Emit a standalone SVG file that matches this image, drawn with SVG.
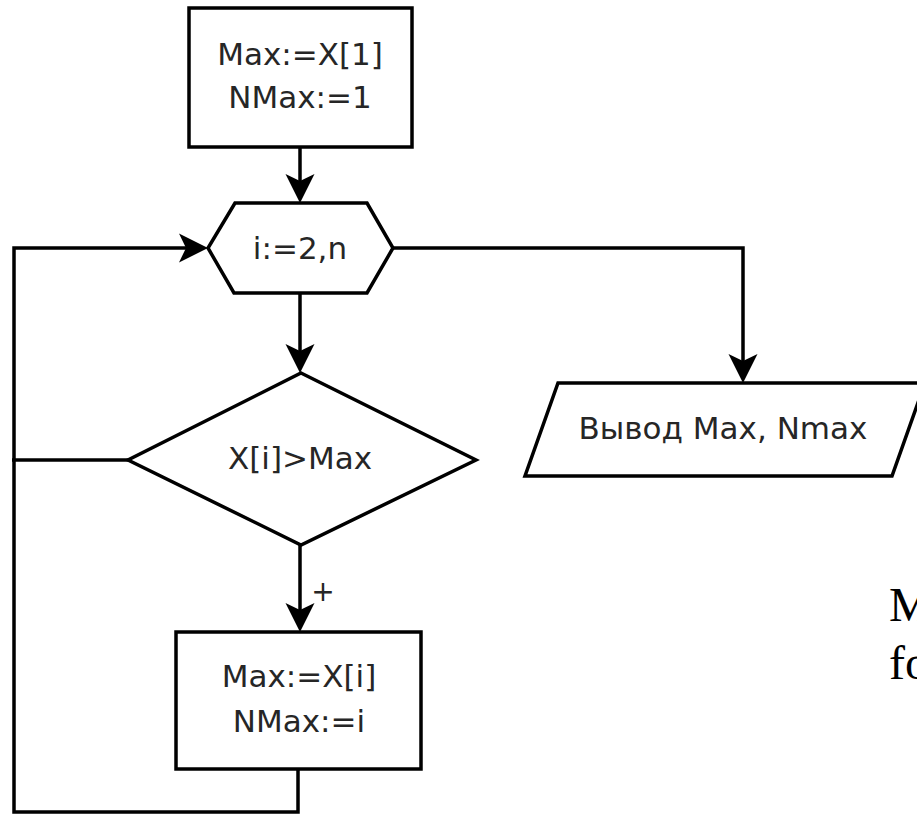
<svg xmlns="http://www.w3.org/2000/svg" width="917" height="816" viewBox="0 0 917 816">
<style>
.shape{fill:#fff;stroke:#000;stroke-width:3.5;stroke-linejoin:miter}
.conn{fill:none;stroke:#000;stroke-width:3.5}
.lbl{font-family:"DejaVu Sans",Verdana,sans-serif;font-size:31px;fill:#262626;text-anchor:middle}
.side{font-family:"Liberation Serif","Times New Roman",serif;font-size:48px;fill:#000}
</style>
<defs>
<marker id="arr" markerUnits="userSpaceOnUse" markerWidth="34" markerHeight="34" viewBox="-31 -17 34 34" refX="-8" refY="0" orient="auto">
<path d="M0,0 L-29,-14.5 L-22,0 L-29,14.5 Z" fill="#000"/>
</marker>
</defs>
<rect width="917" height="816" fill="#fff"/>
<g id="connectors">
<line class="conn" x1="300" y1="147" x2="300" y2="195" marker-end="url(#arr)"/>
<polyline class="conn" points="298,769 298,812 14,812 14,248 200,248" marker-end="url(#arr)"/>
<line class="conn" x1="128" y1="460" x2="12" y2="460"/>
<polyline class="conn" points="393,248 743,248 743,375" marker-end="url(#arr)"/>
<line class="conn" x1="300" y1="293" x2="300" y2="365" marker-end="url(#arr)"/>
<line class="conn" x1="300" y1="545" x2="300" y2="624" marker-end="url(#arr)"/>
<text class="lbl" x="323" y="601" style="font-size:28px">+</text>
</g>
<g id="init">
<rect class="shape" x="189" y="8" width="223" height="139"/>
<text class="lbl" x="300" y="65">Max:=X[1]</text>
<text class="lbl" x="300" y="108">NMax:=1</text>
</g>
<g id="loop">
<polygon class="shape" points="235,203 367,203 393,248 367,293 234,293 208,248"/>
<text class="lbl" x="300" y="259">i:=2,n</text>
</g>
<g id="cond">
<polygon class="shape" points="301,373 476,460 301,545 128,460"/>
<text class="lbl" x="300" y="469">X[i]&gt;Max</text>
</g>
<g id="update">
<rect class="shape" x="176" y="632" width="245" height="137"/>
<text class="lbl" x="299" y="687">Max:=X[i]</text>
<text class="lbl" x="299" y="732">NMax:=i</text>
</g>
<g id="output">
<polygon class="shape" points="558,383 925,383 892,476 525,476"/>
<text class="lbl" x="723" y="439">Вывод Max, Nmax</text>
</g>
<g id="sidetext">
<text class="side" x="889" y="621">M</text>
<text class="side" x="889" y="679">fo</text>
</g>
</svg>
